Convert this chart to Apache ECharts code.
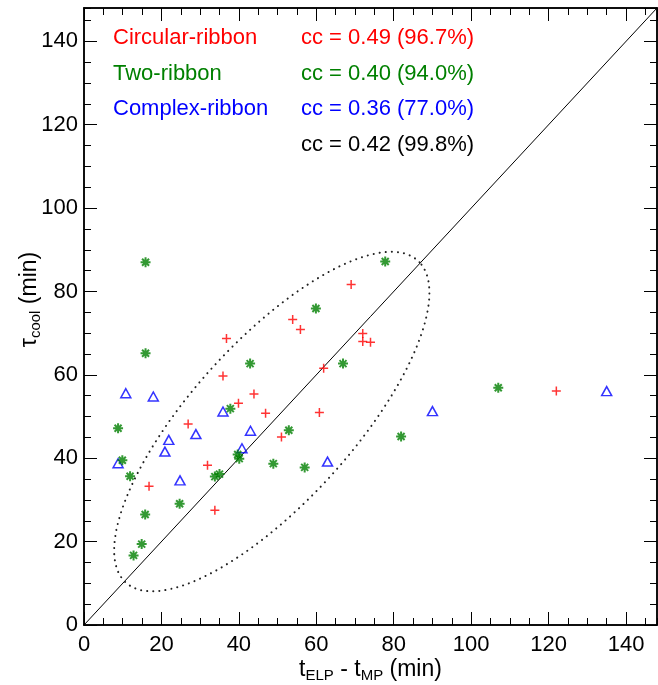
<!DOCTYPE html>
<html>
<head>
<meta charset="utf-8">
<script src="https://cdn.jsdelivr.net/npm/echarts@6/dist/echarts.min.js"></script>
<style>
  html, body { margin: 0; padding: 0; background: #fff; }
  #chart { width: 658px; height: 685px; }
</style>
</head>
<body>
<div id="chart"></div>
<script>
// values (minutes)
const circularX = [36.8, 69.0, 53.9, 55.9, 72.0, 72.0, 74.0, 35.9, 43.9, 39.9, 46.9, 60.8, 61.9, 26.9, 51.0, 31.9, 16.8, 33.8, 122.0];
const circularY = [68.7, 81.7, 73.3, 70.9, 69.9, 68.0, 67.8, 59.7, 55.4, 53.2, 50.8, 51.0, 61.6, 48.2, 45.1, 38.3, 33.3, 27.5, 56.1];

const twoX = [15.9, 15.9, 77.8, 59.9, 42.9, 66.9, 37.8, 8.8, 9.9, 11.9, 33.8, 35.0, 39.7, 40.1, 52.9, 48.9, 57.0, 24.7, 15.8, 14.9, 12.8, 81.9, 107.0];
const twoY = [87.0, 65.2, 87.2, 75.9, 62.7, 62.7, 51.9, 47.2, 39.5, 35.7, 35.6, 36.2, 40.9, 39.9, 46.7, 38.7, 37.8, 29.1, 26.5, 19.4, 16.7, 45.2, 56.9];

const complexX = [10.8, 17.9, 35.9, 28.9, 21.9, 20.9, 8.8, 24.8, 43.0, 40.8, 62.9, 90.0, 135.0];
const complexY = [55.6, 54.8, 51.2, 45.8, 44.4, 41.6, 38.8, 34.7, 46.6, 42.4, 39.2, 51.3, 56.1];

const groupNames = ["Circular-ribbon", "Two-ribbon", "Complex-ribbon"];
const ccLabels = ["cc = 0.49 (96.7%)", "cc = 0.40 (94.0%)", "cc = 0.36 (77.0%)", "cc = 0.42 (99.8%)"];

// dotted ellipse (data units)
const ellipseCenter = [48.5, 48.8];
const ellipseAxes = [54, 20];
const ellipseAngleDeg = 45;

const axisMax = 148;
const majorStep = 20;
const minorStep = 5;

const FONT = '"Liberation Sans", Arial, Helvetica, sans-serif';
const RED = "#ff0000";
const GREEN = "#008000";
const BLUE = "#0000ff";

const zip = (xs, ys) => xs.map((x, i) => [x, ys[i]]);

const ellipsePoints = [];
{
  const a = (ellipseAngleDeg * Math.PI) / 180;
  for (let i = 0; i <= 180; i++) {
    const t = (i / 180) * 2 * Math.PI;
    const u = ellipseAxes[0] * Math.cos(t);
    const v = ellipseAxes[1] * Math.sin(t);
    ellipsePoints.push([
      ellipseCenter[0] + u * Math.cos(a) - v * Math.sin(a),
      ellipseCenter[1] + u * Math.sin(a) + v * Math.cos(a),
    ]);
  }
}

const richName = {
  t: { fontSize: 23, fontFamily: FONT, color: "#000" },
  s: { fontSize: 15, fontFamily: FONT, color: "#000", padding: [12, 0, 0, 0] },
};

function makeAxis(position, step, tickLen, extra) {
  return Object.assign({
    type: "value",
    min: 0,
    max: axisMax,
    interval: step,
    position,
    axisLine: { onZero: false, lineStyle: { color: "#000", width: 1.5 } },
    axisTick: { inside: true, length: tickLen, lineStyle: { color: "#000", width: 1 } },
    axisLabel: { show: false },
    splitLine: { show: false },
  }, extra);
}

const labelStyle = { show: true, fontSize: 22, color: "#000", fontFamily: FONT, showMaxLabel: false };

const option = {
  animation: false,
  backgroundColor: "#fff",
  grid: { left: 84, right: 1, top: 8, bottom: 60, outerBoundsMode: "none", containLabel: false },
  xAxis: [
    makeAxis("bottom", majorStep, 13, {
      axisLabel: Object.assign({}, labelStyle, { margin: 9 }),
      name: "{t|t}{s|ELP}{t| - t}{s|MP}{t| (min)}",
      nameLocation: "middle",
      nameGap: 31,
      nameMoveOverlap: false,
      nameTextStyle: { rich: richName },
    }),
    makeAxis("bottom", minorStep, 7),
    makeAxis("top", majorStep, 13),
    makeAxis("top", minorStep, 7),
  ],
  yAxis: [
    makeAxis("left", majorStep, 13, {
      axisLabel: Object.assign({}, labelStyle, { margin: 6 }),
      name: "{t|τ}{s|cool}{t| (min)}",
      nameLocation: "middle",
      nameGap: 41,
      nameMoveOverlap: false,
      nameTextStyle: { rich: richName, padding: [0, 0, 0, 34] },
    }),
    makeAxis("left", minorStep, 7),
    makeAxis("right", majorStep, 13),
    makeAxis("right", minorStep, 7),
  ],
  graphic: [
    { type: "text", left: 113, top: 27, style: { text: groupNames[0], fill: RED, fontSize: 22, fontFamily: FONT } },
    { type: "text", left: 113, top: 63, style: { text: groupNames[1], fill: GREEN, fontSize: 22, fontFamily: FONT } },
    { type: "text", left: 113, top: 98, style: { text: groupNames[2], fill: BLUE, fontSize: 22, fontFamily: FONT } },
    { type: "text", left: 301, top: 27, style: { text: ccLabels[0], fill: RED, fontSize: 22, fontFamily: FONT } },
    { type: "text", left: 301, top: 63, style: { text: ccLabels[1], fill: GREEN, fontSize: 22, fontFamily: FONT } },
    { type: "text", left: 301, top: 98, style: { text: ccLabels[2], fill: BLUE, fontSize: 22, fontFamily: FONT } },
    { type: "text", left: 301, top: 134, style: { text: ccLabels[3], fill: "#000", fontSize: 22, fontFamily: FONT } },
  ],
  series: [
    {
      name: "one-to-one",
      type: "line",
      data: [[0, 0], [axisMax, axisMax]],
      showSymbol: false,
      silent: true,
      lineStyle: { color: "#000", width: 1 },
      z: 1,
    },
    {
      name: "ellipse",
      type: "line",
      data: ellipsePoints,
      showSymbol: false,
      silent: true,
      lineStyle: { color: "#222", width: 2, type: [0.1, 6], cap: "round" },
      z: 1,
    },
    {
      name: groupNames[2],
      type: "scatter",
      data: zip(complexX, complexY),
      symbol: "triangle",
      symbolSize: [10, 9],
      itemStyle: { color: "rgba(0,0,0,0)", borderColor: BLUE, borderWidth: 1.5 },
      z: 3,
    },
    {
      name: groupNames[1],
      type: "scatter",
      data: zip(twoX, twoY),
      symbol: "path://M0,5L10,5M5,0L5,10M1.5,1.5L8.5,8.5M1.5,8.5L8.5,1.5",
      symbolSize: 10,
      itemStyle: { color: GREEN, borderColor: GREEN, borderWidth: 2 },
      z: 3,
    },
    {
      name: groupNames[0],
      type: "scatter",
      data: zip(circularX, circularY),
      symbol: "path://M0,5L10,5M5,0L5,10",
      symbolSize: 9,
      itemStyle: { color: RED, borderColor: RED, borderWidth: 1.5 },
      z: 4,
    },
  ],
};

const chart = echarts.init(document.getElementById("chart"), null, { renderer: "canvas" });
chart.setOption(option);
</script>
</body>
</html>
